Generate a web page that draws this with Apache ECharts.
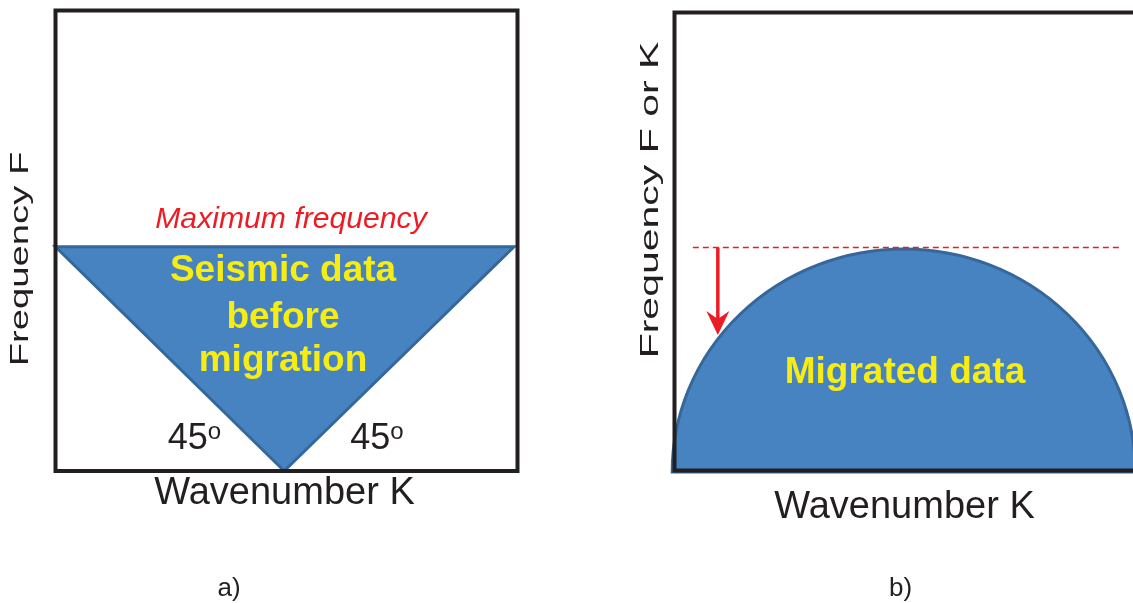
<!DOCTYPE html>
<html>
<head>
<meta charset="utf-8">
<script src="https://cdn.jsdelivr.net/npm/echarts@6/dist/echarts.min.js"></script>
<style>
html,body{margin:0;padding:0;background:#fff;}
#c{width:1133px;height:603px;}
</style>
</head>
<body>
<div id="c"></div>
<script>
// ---- data (axis units: wavenumber K in [-1,1], frequency F in [0,1]) ----
const maxFreq = 0.487;
const triangleK = [-1, 0.985, -0.01];
const triangleF = [maxFreq, maxFreq, 0];
const arcCenter = [0, 0];
const arcRadiusK = 1.01;
const dashK = [-0.92, 0.95];
const arrowK = -0.811;
const arrowF = [maxFreq, 0.296];
// frame of panel b (its right side runs off the picture)
const frameK = [1.2, -1, -1, 1.2];
const frameF = [1, 1, 0, 0];

const FONT = "'Liberation Sans', Arial, Helvetica, sans-serif";
const DARK = '#231f20';
const RED = '#ed1c24';
const YELLOW = '#f7ec13';
const FILL = '#4683c0';
const EDGE = '#35679a';

const chart = echarts.init(document.getElementById('c'), null, {renderer: 'canvas'});

const option = {
  animation: false,
  backgroundColor: '#ffffff',
  grid: [
    {left: 55.5, top: 10.5, width: 462, height: 460.5, show: true, borderColor: DARK, borderWidth: 4, z: 10, containLabel: false},
    {left: 674.5, top: 12.5, width: 460, height: 458, show: false, containLabel: false}
  ],
  xAxis: [
    {type: 'value', gridIndex: 0, min: -1, max: 1, show: false},
    {type: 'value', gridIndex: 1, min: -1, max: 1, show: false}
  ],
  yAxis: [
    {type: 'value', gridIndex: 0, min: 0, max: 1, show: false},
    {type: 'value', gridIndex: 1, min: 0, max: 1, show: false}
  ],
  series: [
    {
      type: 'custom', xAxisIndex: 0, yAxisIndex: 0, z: 1,
      data: triangleK.map((k, i) => [k, triangleF[i]]),
      renderItem: function (params, api) {
        if (params.dataIndex !== 0) return null;
        const pts = triangleK.map((k, i) => api.coord([k, triangleF[i]]));
        return {type: 'polygon', shape: {points: pts}, style: {fill: FILL, stroke: EDGE, lineWidth: 3, lineJoin: 'miter'}};
      }
    },
    {
      type: 'custom', xAxisIndex: 1, yAxisIndex: 1, z: 1, clip: false,
      data: [[arcCenter[0], arcCenter[1], arcRadiusK, maxFreq]],
      renderItem: function (params, api) {
        const c = api.coord([api.value(0), api.value(1)]);
        const e = api.coord([api.value(0) + api.value(2), api.value(1)]);
        const t = api.coord([api.value(0), api.value(3)]);
        const rx = e[0] - c[0];
        const ry = c[1] - t[1];
        const cy = c[1] + 1.5;
        const d = 'M' + (c[0] - rx) + ' ' + cy + ' A' + rx + ' ' + ry + ' 0 0 1 ' + (c[0] + rx) + ' ' + cy + ' Z';
        return {type: 'path', shape: {pathData: d}, style: {fill: FILL, stroke: EDGE, lineWidth: 3}};
      }
    },
    {
      type: 'custom', xAxisIndex: 1, yAxisIndex: 1, z: 5, clip: false,
      data: frameK.map((k, i) => [k, frameF[i]]),
      renderItem: function (params, api) {
        if (params.dataIndex !== 0) return null;
        const pts = frameK.map((k, i) => api.coord([k, frameF[i]]));
        return {type: 'polyline', shape: {points: pts}, style: {fill: null, stroke: DARK, lineWidth: 4, lineJoin: 'miter'}};
      }
    },
    {
      type: 'line', xAxisIndex: 1, yAxisIndex: 1, z: 3, symbol: 'none', silent: true,
      data: dashK.map(k => [k, maxFreq]),
      lineStyle: {color: RED, width: 1.5, type: [6, 4]}
    },
    {
      type: 'custom', xAxisIndex: 1, yAxisIndex: 1, z: 4,
      data: [[arrowK, arrowF[0], arrowF[1]]],
      renderItem: function (params, api) {
        const a = api.coord([api.value(0), api.value(1)]);
        const b = api.coord([api.value(0), api.value(2)]);
        const x = b[0], y = b[1];
        return {
          type: 'group',
          children: [
            {type: 'line', shape: {x1: a[0], y1: a[1], x2: x, y2: y - 14}, style: {stroke: RED, lineWidth: 3.5}},
            {type: 'polygon', shape: {points: [[x, y], [x - 11.5, y - 24], [x, y - 16], [x + 11.5, y - 24]]}, style: {fill: RED}}
          ]
        };
      }
    }
  ],
  graphic: [
    {type: 'text', x: 21.5, y: 259, rotation: Math.PI / 2, scaleX: 1.53, style: {text: 'Frequency F', font: '25px ' + FONT, fill: DARK, align: 'center', verticalAlign: 'middle'}},
    {type: 'text', x: 651, y: 200, rotation: Math.PI / 2, scaleX: 1.64, style: {text: 'Frequency F or K', font: '25px ' + FONT, fill: DARK, align: 'center', verticalAlign: 'middle'}},
    {type: 'text', x: 291, y: 220, z: 20, scaleX: 1.04, style: {text: 'Maximum frequency', font: 'italic 29px ' + FONT, fill: RED, align: 'center', verticalAlign: 'middle'}},
    {type: 'text', x: 283, y: 271, z: 20, style: {text: 'Seismic data', font: 'bold 37px ' + FONT, fill: YELLOW, align: 'center', verticalAlign: 'middle'}},
    {type: 'text', x: 283, y: 318, z: 20, style: {text: 'before', font: 'bold 37px ' + FONT, fill: YELLOW, align: 'center', verticalAlign: 'middle'}},
    {type: 'text', x: 283, y: 361, z: 20, style: {text: 'migration', font: 'bold 37px ' + FONT, fill: YELLOW, align: 'center', verticalAlign: 'middle'}},
    {type: 'text', x: 905, y: 373, z: 20, style: {text: 'Migrated data', font: 'bold 37px ' + FONT, fill: YELLOW, align: 'center', verticalAlign: 'middle'}},
    {type: 'text', x: 194.5, y: 439, z: 20, style: {text: '{a|45}{b|o}', align: 'center', verticalAlign: 'middle', rich: {a: {font: '36px ' + FONT, fill: DARK}, b: {font: '24px ' + FONT, fill: DARK, padding: [0, 0, 14, 0]}}}},
    {type: 'text', x: 377, y: 439, z: 20, style: {text: '{a|45}{b|o}', align: 'center', verticalAlign: 'middle', rich: {a: {font: '36px ' + FONT, fill: DARK}, b: {font: '24px ' + FONT, fill: DARK, padding: [0, 0, 14, 0]}}}},
    {type: 'text', x: 284.5, y: 493.5, style: {text: 'Wavenumber K', font: '38px ' + FONT, fill: DARK, align: 'center', verticalAlign: 'middle'}},
    {type: 'text', x: 904.5, y: 507.5, style: {text: 'Wavenumber K', font: '38px ' + FONT, fill: DARK, align: 'center', verticalAlign: 'middle'}},
    {type: 'text', x: 229, y: 589, style: {text: 'a)', font: '26px ' + FONT, fill: DARK, align: 'center', verticalAlign: 'middle'}},
    {type: 'text', x: 900.5, y: 589, style: {text: 'b)', font: '26px ' + FONT, fill: DARK, align: 'center', verticalAlign: 'middle'}}
  ]
};
chart.setOption(option);
</script>
</body>
</html>
